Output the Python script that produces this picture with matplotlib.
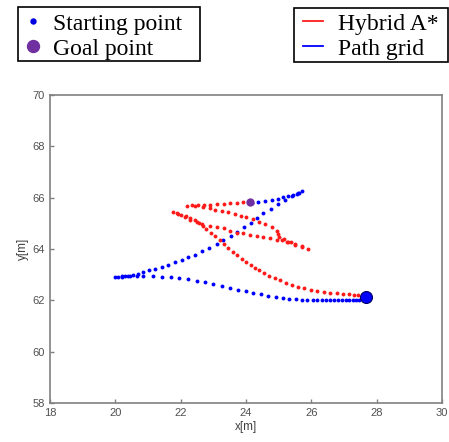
import matplotlib.pyplot as plt
from matplotlib.lines import Line2D
from matplotlib.patches import Rectangle

# path grid (blue): goal -> right cusp -> left cusp -> near start
grid_x = [24.18, 24.38, 24.58, 24.79, 24.99, 25.14, 25.29, 25.45, 25.55, 25.62, 25.70,
          25.60, 25.41, 25.19, 24.97, 24.76, 24.53, 24.35, 24.14, 23.94, 23.73, 23.53,
          23.30, 23.10, 22.88, 22.64, 22.44, 22.23, 22.03, 21.83, 21.62, 21.42, 21.21,
          21.04, 20.86, 20.68, 20.55, 20.40, 20.30, 20.19, 20.09, 19.99,
          20.20, 20.45, 20.65, 20.86, 21.14, 21.42, 21.69, 21.96, 22.23, 22.49, 22.74,
          23.00, 23.26, 23.51, 23.76, 24.00, 24.22, 24.46, 24.68, 24.92, 25.12, 25.32,
          25.53, 25.70, 25.88, 26.04, 26.18, 26.32, 26.45, 26.57, 26.69, 26.81, 26.93,
          27.05, 27.16, 27.27, 27.37, 27.45]
grid_y = [65.81, 65.83, 65.87, 65.91, 65.95, 66.01, 66.07, 66.10, 66.14, 66.19, 66.26,
          66.17, 66.05, 65.91, 65.75, 65.57, 65.39, 65.20, 65.03, 64.86, 64.66, 64.51,
          64.35, 64.20, 64.04, 63.91, 63.78, 63.68, 63.57, 63.48, 63.39, 63.29, 63.22,
          63.17, 63.09, 63.04, 62.99, 62.96, 62.94, 62.92, 62.91, 62.90,
          62.93, 62.95, 62.96, 62.96, 62.95, 62.92, 62.90, 62.86, 62.82, 62.77, 62.70,
          62.64, 62.57, 62.49, 62.42, 62.35, 62.29, 62.24, 62.18, 62.13, 62.09, 62.06,
          62.04, 62.03, 62.01, 62.00, 62.00, 62.00, 62.00, 62.00, 62.00, 62.00, 62.00,
          62.00, 62.00, 62.00, 62.00, 62.00]

# hybrid A* (red): start -> left cusp -> right cusp -> left cusp -> goal
hyb_x = [27.44, 27.31, 27.16, 26.98, 26.78, 26.57, 26.39, 26.18, 25.99, 25.78, 25.60,
         25.42, 25.22, 25.04, 24.89, 24.71, 24.55, 24.41, 24.27, 24.14, 24.00, 23.87,
         23.73, 23.59, 23.46, 23.33, 23.20, 23.05, 22.92, 22.79, 22.67, 22.55, 22.43,
         22.30, 22.16, 22.02, 21.88, 21.76,
         21.93, 22.13, 22.29, 22.49, 22.64, 22.90, 23.10, 23.33, 23.51, 23.71, 23.92,
         24.12, 24.33, 24.53, 24.73, 24.94, 25.09, 25.25, 25.37, 25.50, 25.70, 25.91,
         25.70, 25.50, 25.30, 25.15, 25.02, 24.99, 24.95, 24.79, 24.58, 24.41, 24.20,
         24.00, 23.84, 23.66, 23.46, 23.26, 23.05, 22.90, 22.68, 22.45, 22.18,
         22.35, 22.52, 22.70, 22.90, 23.12, 23.32, 23.51, 23.72, 23.92]
hyb_y = [62.21, 62.22, 62.24, 62.25, 62.27, 62.30, 62.33, 62.36, 62.42, 62.47, 62.53,
         62.60, 62.69, 62.78, 62.87, 62.96, 63.07, 63.17, 63.26, 63.38, 63.51, 63.62,
         63.76, 63.88, 64.04, 64.20, 64.34, 64.51, 64.64, 64.78, 64.90, 65.02, 65.12,
         65.20, 65.27, 65.33, 65.39, 65.45,
         65.35, 65.24, 65.13, 65.06, 64.97, 64.90, 64.85, 64.81, 64.70, 64.64, 64.61,
         64.55, 64.51, 64.48, 64.42, 64.35, 64.35, 64.29, 64.26, 64.16, 64.09, 64.00,
         64.10, 64.19, 64.28, 64.40, 64.48, 64.60, 64.72, 64.85, 64.96, 65.06, 65.17,
         65.24, 65.30, 65.36, 65.43, 65.48, 65.52, 65.59, 65.64, 65.67, 65.69,
         65.70, 65.70, 65.71, 65.73, 65.75, 65.77, 65.79, 65.81, 65.83]

start_pt = (27.66, 62.12)
goal_pt = (24.12, 65.83)

plt.rcParams['font.family'] = ['Liberation Sans', 'DejaVu Sans']

W, H = 449, 442
fig = plt.figure(figsize=(W/100, H/100), dpi=100)
ax = fig.add_axes([50/W, 39/H, 392/W, 308/H])

ax.plot(grid_x, grid_y, linestyle='none', marker='o', markersize=2.8,
        color='#0000ff', markeredgewidth=0)
ax.plot(hyb_x, hyb_y, linestyle='none', marker='o', markersize=2.8,
        color='#ff1a1a', markeredgewidth=0)
ax.plot(start_pt[0], start_pt[1], 'o', markersize=8.6, color='#0000ff',
        markeredgecolor='#000060', markeredgewidth=0.8)
ax.plot(goal_pt[0], goal_pt[1], 'o', markersize=6, color='#7030a0',
        markeredgewidth=0)

ax.set_xlim(18, 30)
ax.set_ylim(58, 70)
ax.set_xticks([18, 20, 22, 24, 26, 28, 30])
ax.set_yticks([58, 60, 62, 64, 66, 68, 70])
for s in ax.spines.values():
    s.set_color('#808080')
    s.set_linewidth(1.2)
ax.tick_params(direction='in', length=3, width=1, color='#808080',
               labelcolor='#505050', labelsize=8)
ax.set_xlabel('x[m]', fontsize=8.5, color='#404040', labelpad=2)
ax.set_ylabel('y[m]', fontsize=8.5, color='#404040', labelpad=3)

# legend boxes (pixel coords, top-left origin)
for (x0, y0, x1, y1) in [(18, 7, 200, 61), (294, 8, 448, 62)]:
    fig.add_artist(Rectangle((x0/W, 1 - y1/H), (x1 - x0)/W, (y1 - y0)/H,
                             transform=fig.transFigure, fill=False,
                             edgecolor='black', linewidth=1.2))

legfont = {'family': 'Liberation Serif', 'size': 17}
h1 = [Line2D([], [], linestyle='none', marker='o', markersize=3.6, color='#0000e0'),
      Line2D([], [], linestyle='none', marker='o', markersize=8.6, color='#7030a0')]
fig.legend(h1, ['Starting point', 'Goal point'], loc='upper left',
           bbox_to_anchor=(22.5/W, 1 - 13/H), frameon=False,
           handlelength=0.9, handletextpad=0.4, borderpad=0,
           labelspacing=0.15, borderaxespad=0, prop=legfont)

h2 = [Line2D([], [], color='#ff1a1a', linewidth=1.3),
      Line2D([], [], color='#0000ff', linewidth=1.3)]
fig.legend(h2, ['Hybrid A*', 'Path grid'], loc='upper left',
           bbox_to_anchor=(303/W, 1 - 13/H), frameon=False,
           handlelength=0.85, handletextpad=0.64, borderpad=0,
           labelspacing=0.15, borderaxespad=0, prop=legfont)

fig.savefig('out.png', dpi=100)
